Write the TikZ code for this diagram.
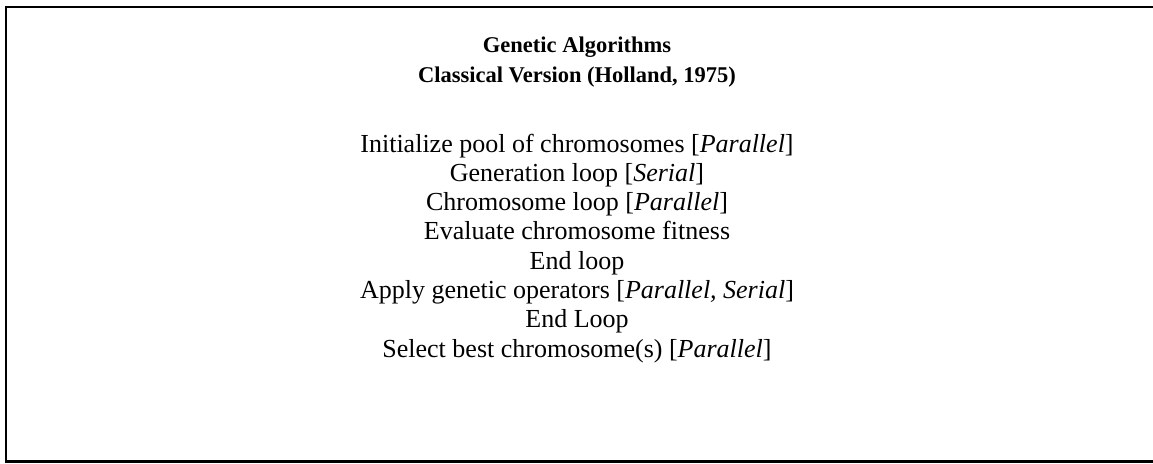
\documentclass[tikz,border=0pt]{standalone}
\usepackage{fontspec}
\setmainfont{Liberation Serif}
\begin{document}
\begin{tikzpicture}[x=1pt,y=-1pt,
  frame/.style={draw=black,line width=2.4pt},
  head/.style={anchor=base,inner sep=0pt,font=\fontsize{22.5}{27}\selectfont\bfseries},
  body/.style={anchor=base,inner sep=0pt,font=\fontsize{26}{30}\selectfont}]
\useasboundingbox (0,0) rectangle (1153,463);
\clip (0,0) rectangle (1153,463);
% outer frame (right side runs past the page edge)
\draw[frame] (6,7) rectangle (1175,461.5);
% heading
\node[head] (title)   at (577,52) {Genetic Algorithms};
\node[head] (version) at (577,82) {Classical Version (Holland, 1975)};
% pseudo-code lines
\node[body] (init)  at (577,152.0) {Initialize pool of chromosomes [\textit{Parallel}]};
\node[body] (gen)   at (577,181.3) {Generation loop [\textit{Serial}]};
\node[body] (chrom) at (577,210.6) {Chromosome loop [\textit{Parallel}]};
\node[body] (eval)  at (577,239.9) {Evaluate chromosome fitness};
\node[body] (end1)  at (577,269.2) {End loop};
\node[body] (ops)   at (577,298.5) {Apply genetic operators [\textit{Parallel, Serial}]};
\node[body] (end2)  at (577,327.8) {End Loop};
\node[body] (best)  at (577,357.1) {Select best chromosome(s) [\textit{Parallel}]};
\end{tikzpicture}
\end{document}
